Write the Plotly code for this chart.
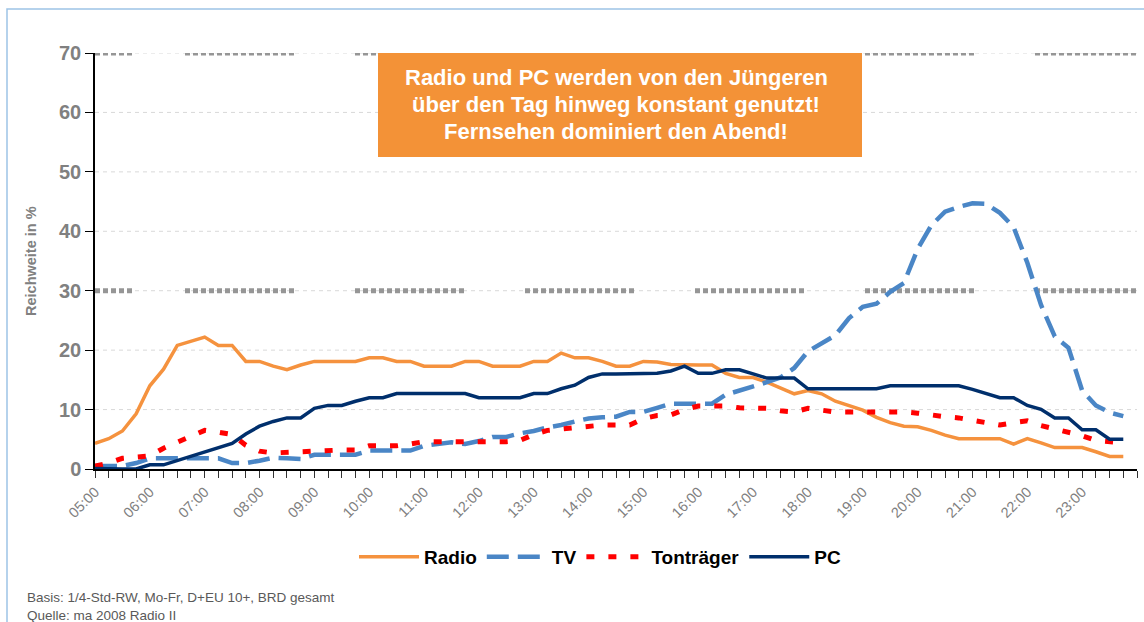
import plotly.graph_objects as go

# ---- data (quarter-hour slots 05:00 ... 23:45) ----
slot_index = list(range(76))
tick_positions = list(range(0, 76, 4))
tick_labels = ["05:00", "06:00", "07:00", "08:00", "09:00", "10:00", "11:00", "12:00",
               "13:00", "14:00", "15:00", "16:00", "17:00", "18:00", "19:00", "20:00",
               "21:00", "22:00", "23:00"]

radio = [4.3, 5.1, 6.4, 9.3, 14.0, 16.8, 20.8, 21.5, 22.2, 20.8,
         20.8, 18.1, 18.1, 17.3, 16.7, 17.5, 18.1, 18.1, 18.1, 18.1,
         18.7, 18.7, 18.1, 18.1, 17.3, 17.3, 17.3, 18.1, 18.1, 17.3,
         17.3, 17.3, 18.1, 18.1, 19.5, 18.7, 18.7, 18.1, 17.3, 17.3,
         18.1, 18.0, 17.6, 17.5, 17.5, 17.5, 16.1, 15.4, 15.4, 14.6,
         13.6, 12.65, 13.2, 12.65, 11.4, 10.7, 9.9, 8.7, 7.8, 7.2,
         7.1, 6.5, 5.7, 5.1, 5.1, 5.1, 5.1, 4.2, 5.1, 4.4,
         3.6, 3.6, 3.6, 2.9, 2.1, 2.1]

tv = [0.5, 0.5, 0.5, 1.0, 1.8, 1.8, 1.8, 1.8, 1.8, 1.8,
      1.0, 1.0, 1.4, 1.9, 1.8, 1.7, 2.4, 2.4, 2.4, 2.4,
      3.1, 3.1, 3.1, 3.1, 3.9, 4.2, 4.5, 4.2, 4.7, 5.4,
      5.4, 6.0, 6.4, 7.0, 7.4, 8.0, 8.5, 8.7, 8.8, 9.6,
      9.6, 10.3, 11.0, 11.0, 11.0, 11.0, 12.5, 13.2, 13.8, 14.6,
      15.4, 17.0, 19.8, 21.2, 22.5, 25.4, 27.3, 27.8, 29.8, 31.3,
      37.0, 41.0, 43.3, 44.1, 44.7, 44.6, 43.1, 40.7, 34.7, 27.6,
      22.3, 20.4, 13.2, 10.7, 9.5, 8.9]

tontraeger = [0.5, 1.0, 1.8, 2.0, 2.2, 3.5, 4.5, 5.3, 6.5, 6.2,
              5.8, 4.0, 3.0, 2.7, 2.8, 3.0, 3.2, 3.3, 3.2, 3.2,
              3.9, 3.9, 3.9, 4.2, 4.6, 4.6, 4.6, 4.6, 4.6, 4.5,
              4.6, 4.8, 5.8, 6.5, 6.7, 7.0, 7.3, 7.4, 7.4, 7.4,
              8.5, 9.0, 9.1, 10.0, 10.6, 10.6, 10.6, 10.3, 10.3, 10.2,
              9.8, 9.6, 10.2, 9.9, 9.6, 9.6, 9.6, 9.7, 9.7, 9.6,
              9.4, 9.0, 8.8, 8.6, 8.2, 7.8, 7.4, 7.8, 8.1, 7.3,
              6.8, 6.3, 5.6, 4.8, 4.5, 4.4]

pc = [0.1, 0.0, 0.0, 0.0, 0.7, 0.7, 1.4, 2.2, 2.9, 3.6,
      4.3, 5.9, 7.2, 8.0, 8.6, 8.6, 10.2, 10.7, 10.7, 11.4,
      12.0, 12.0, 12.7, 12.7, 12.7, 12.7, 12.7, 12.7, 12.0, 12.0,
      12.0, 12.0, 12.7, 12.7, 13.5, 14.1, 15.4, 16.0, 16.0, 16.0,
      16.0, 16.1, 16.5, 17.3, 16.1, 16.1, 16.7, 16.7, 16.0, 15.3,
      15.3, 15.3, 13.5, 13.5, 13.5, 13.5, 13.5, 13.5, 14.0, 14.0,
      14.0, 14.0, 14.0, 14.0, 13.4, 12.7, 12.0, 12.0, 10.7, 10.05,
      8.6, 8.6, 6.6, 6.6, 5.0, 5.0]

y_ticks = [0, 10, 20, 30, 40, 50, 60, 70]
light_levels = [10, 20, 40, 50, 60]
heavy_levels = [30, 70]

FONT = "Liberation Sans, Arial, sans-serif"

fig = go.Figure()
fig.add_trace(go.Scatter(x=slot_index, y=radio, name="Radio", mode="lines",
                         line=dict(color="#F5923E", width=3.5)))
fig.add_trace(go.Scatter(x=slot_index, y=tv, name="TV", mode="lines",
                         line=dict(color="#4A86C6", width=4.5, dash="22px,9px")))
fig.add_trace(go.Scatter(x=slot_index, y=tontraeger, name="Tonträger", mode="lines",
                         line=dict(color="#FF0000", width=5, dash="8px,14px")))
fig.add_trace(go.Scatter(x=slot_index, y=pc, name="PC", mode="lines",
                         line=dict(color="#002F6C", width=3.5)))

# heavy dotted reference lines (pattern of dotted blocks)
parts = []
for k in range(5):
    parts += [5, 3]
parts[-1] += 50
for rep in range(6):
    for k in range(14):
        parts += [5, 3]
    parts[-1] += 58
heavy_dash = ",".join(f"{p}px" for p in parts)

shapes = []
for lvl in light_levels + heavy_levels:
    shapes.append(dict(type="line", xref="paper", yref="y", x0=0, x1=1, y0=lvl, y1=lvl,
                       line=dict(color="#d9d9d9", width=1, dash="4px,4px"), layer="below"))
for lvl in heavy_levels:
    shapes.append(dict(type="line", xref="paper", yref="y", x0=0, x1=1, y0=lvl, y1=lvl,
                       line=dict(color="#969696", width=5, dash=heavy_dash), layer="below"))

# orange text box
shapes.append(dict(type="rect", xref="paper", yref="paper",
                   x0=(378 - 95) / 1042, x1=(862 - 95) / 1042,
                   y0=(469 - 157) / 416, y1=1.0,
                   fillcolor="#F39237", line=dict(width=0), layer="above"))

# outer light blue frame
shapes.append(dict(type="rect", xref="paper", yref="paper",
                   x0=(7 - 95) / 1042, x1=(1160 - 95) / 1042,
                   y0=(469 - 640) / 416, y1=(469 - 9) / 416,
                   line=dict(color="#9DC3E6", width=1.5), fillcolor="rgba(0,0,0,0)", layer="below"))

annotations = []
box_lines = ["Radio und PC werden von den Jüngeren",
             "über den Tag hinweg konstant genutzt!",
             "Fernsehen dominiert den Abend!"]
for k, txt in enumerate(box_lines):
    annotations.append(dict(text=txt, xref="paper", yref="paper",
                            x=(616 - 95) / 1042, y=(469 - (77 + 27 * k)) / 416,
                            showarrow=False, xanchor="center", yanchor="middle",
                            font=dict(family=FONT, size=22, color="white", weight="bold")))

annotations.append(dict(text="Reichweite in %", xref="paper", yref="paper",
                        x=(31 - 95) / 1042, y=(469 - 261) / 416, textangle=-90,
                        showarrow=False, xanchor="center", yanchor="middle",
                        font=dict(family=FONT, size=14.5, color="#808080", weight="bold")))
annotations.append(dict(text="Basis: 1/4-Std-RW, Mo-Fr, D+EU 10+, BRD gesamt", xref="paper", yref="paper",
                        x=(25 - 95) / 1042, y=(469 - 597) / 416,
                        showarrow=False, xanchor="left", yanchor="middle",
                        font=dict(family=FONT, size=13.5, color="#595959")))
annotations.append(dict(text="Quelle: ma 2008 Radio II", xref="paper", yref="paper",
                        x=(25 - 95) / 1042, y=(469 - 615) / 416,
                        showarrow=False, xanchor="left", yanchor="middle",
                        font=dict(family=FONT, size=13.5, color="#595959")))

fig.update_layout(
    width=1144, height=622,
    margin=dict(l=95, r=7, t=53, b=153),
    paper_bgcolor="white", plot_bgcolor="white",
    font=dict(family=FONT),
    shapes=shapes, annotations=annotations,
    legend=dict(orientation="h", x=(600 - 95) / 1042, xanchor="center",
                y=(469 - 557) / 416, yanchor="middle",
                font=dict(family=FONT, size=19, color="black", weight="bold"),
                itemwidth=60, bgcolor="rgba(0,0,0,0)"),
    xaxis=dict(range=[0, 76], tickvals=tick_positions, ticktext=tick_labels,
               tickangle=-45, ticks="outside", ticklen=7, tickcolor="#333333",
               tickfont=dict(family=FONT, size=14.5, color="#808080"),
               showline=True, linecolor="black", linewidth=1.5,
               showgrid=False, zeroline=False,
               minor=dict(dtick=1, tick0=0, ticks="outside", ticklen=7, tickcolor="#333333")),
    yaxis=dict(range=[0, 70], tickvals=y_ticks, ticks="outside", ticklen=8, tickcolor="black",
               tickfont=dict(family=FONT, size=20, color="#808080", weight="bold"),
               showline=True, linecolor="black", linewidth=1.5,
               showgrid=False, zeroline=False),
)

fig.write_html("out.html", config={"displayModeBar": False},
               post_script="document.body.style.margin='0';document.body.style.overflow='hidden';")
